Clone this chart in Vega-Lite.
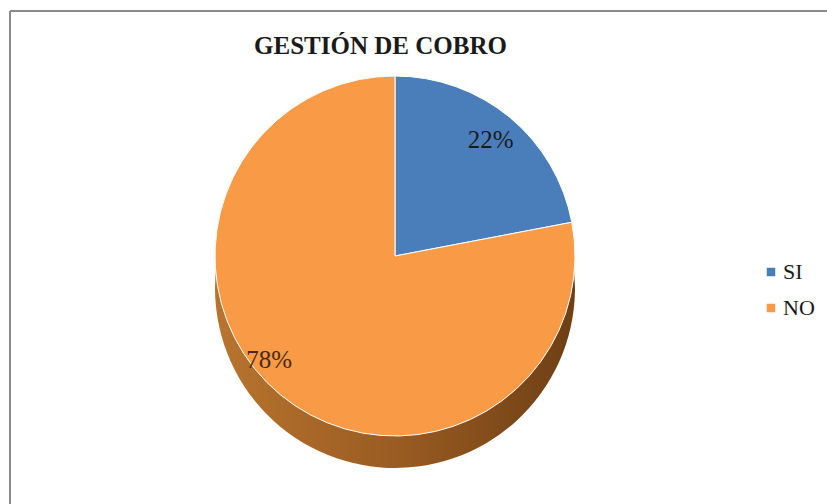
{
  "$schema": "https://vega.github.io/schema/vega-lite/v6.json",
  "width": 817,
  "height": 493,
  "autosize": "none",
  "padding": {"left": 10, "top": 11, "right": 0, "bottom": 0},
  "background": "white",
  "view": {"stroke": "#8a8a8a", "strokeWidth": 2, "strokeDash": [817, 1310, 493, 0]},
  "title": {
    "text": "GESTIÓN DE COBRO",
    "font": "Liberation Serif",
    "fontSize": 25,
    "fontWeight": "bold",
    "color": "#1a1a1a",
    "anchor": "middle",
    "frame": "group",
    "dx": -38,
    "dy": 52
  },
  "data": {
    "values": [
      {"respuesta": "SI", "porcentaje": 22, "etiqueta": "22%", "orden": 1},
      {"respuesta": "NO", "porcentaje": 78, "etiqueta": "78%", "orden": 2}
    ]
  },
  "layer": [
    {
      "mark": {
        "type": "arc",
        "x": 385,
        "y": 245,
        "outerRadius": 180,
        "yOffset": 32,
        "color": {
          "gradient": "linear",
          "x1": 0, "y1": 0, "x2": 1, "y2": 0,
          "stops": [
            {"offset": 0, "color": "#b8742f"},
            {"offset": 0.5, "color": "#9a5c22"},
            {"offset": 1, "color": "#6e3f14"}
          ]
        }
      },
      "encoding": {
        "theta": {"field": "porcentaje", "type": "quantitative", "stack": true},
        "order": {"field": "orden"}
      }
    },
    {
      "mark": {"type": "arc", "x": 385, "y": 245, "outerRadius": 180, "stroke": "white", "strokeWidth": 1},
      "encoding": {
        "theta": {"field": "porcentaje", "type": "quantitative", "stack": true},
        "order": {"field": "orden"},
        "color": {
          "field": "respuesta",
          "type": "nominal",
          "sort": ["SI", "NO"],
          "scale": {"domain": ["SI", "NO"], "range": ["#4a7ebb", "#f99a46"]},
          "legend": {
            "title": null,
            "orient": "none",
            "legendX": 750,
            "legendY": 250,
            "symbolType": "square",
            "symbolSize": 72,
            "labelFont": "Liberation Serif",
            "labelFontSize": 22,
            "labelColor": "#1a1a1a",
            "labelOffset": 1,
            "rowPadding": 14,
            "symbolStrokeWidth": 0
          }
        }
      }
    },
    {
      "mark": {"type": "text", "x": 385, "y": 245, "radius": 150, "font": "Liberation Serif", "fontSize": 25, "color": "#1a1a1a"},
      "encoding": {
        "theta": {"field": "porcentaje", "type": "quantitative", "stack": true},
        "order": {"field": "orden"},
        "text": {"field": "etiqueta"},
        "opacity": {"condition": {"test": "datum.respuesta == 'SI'", "value": 1}, "value": 0}
      }
    },
    {
      "mark": {"type": "text", "x": 385, "y": 245, "radius": 163, "thetaOffset": 0.19, "font": "Liberation Serif", "fontSize": 25, "color": "#4a2a10"},
      "encoding": {
        "theta": {"field": "porcentaje", "type": "quantitative", "stack": true},
        "order": {"field": "orden"},
        "text": {"field": "etiqueta"},
        "opacity": {"condition": {"test": "datum.respuesta == 'NO'", "value": 1}, "value": 0}
      }
    }
  ]
}
